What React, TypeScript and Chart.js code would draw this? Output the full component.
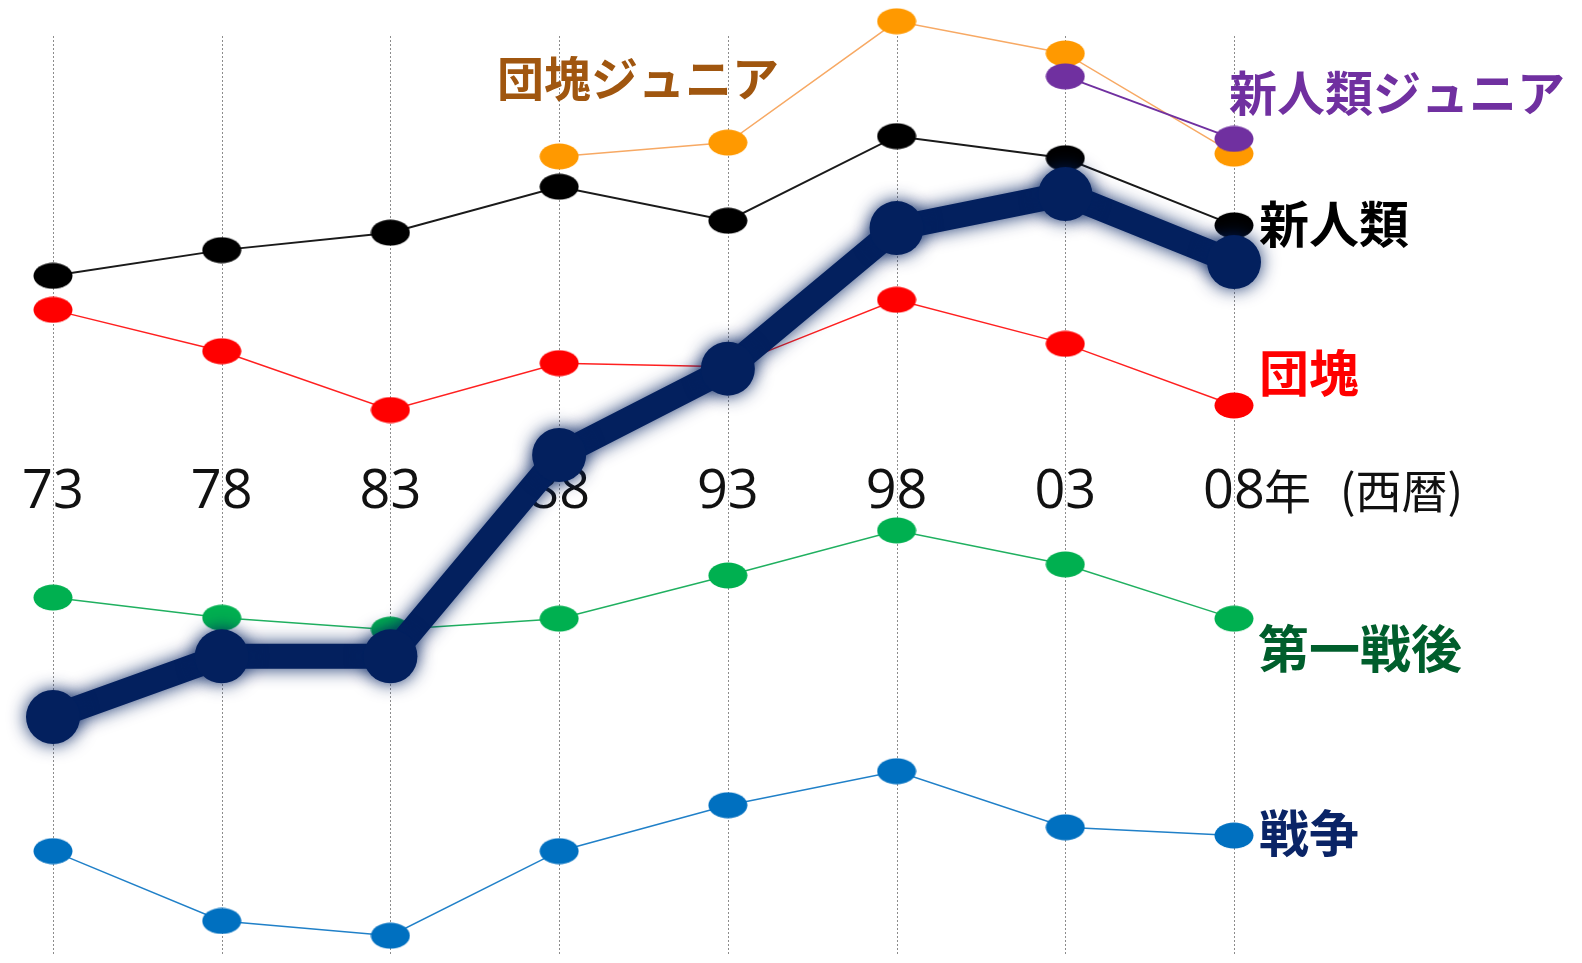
import React, { useEffect, useRef } from 'react';
import { Chart, registerables } from 'chart.js';

Chart.register(...registerables);

// ---- data ----
const years = ['73', '78', '83', '88', '93', '98', '03', '08'];
const highlightSeries = [25.9, 32.5, 32.5, 54.4, 63.8, 79.1, 82.8, 75.4];
const shinjinruiJunior = [null, null, null, null, null, null, 95.6, 88.8];
const dankaiJunior = [null, null, null, 86.9, 88.4, 101.6, 98.1, 87.2];
const shinjinrui = [73.9, 76.7, 78.6, 83.6, 79.9, 89.1, 86.7, 79.4];
const dankai = [70.2, 65.7, 59.3, 64.4, 64.0, 71.3, 66.5, 59.8];
const daiichiSengo = [38.9, 36.7, 35.4, 36.6, 41.3, 46.2, 42.5, 36.6];
const senso = [11.3, 3.7, 2.1, 11.3, 16.3, 20.0, 13.9, 13.0];
const seriesNames = ['団塊ジュニア', '新人類ジュニア', '新人類', '団塊', '第一戦後', '戦争'];
const yearUnit = '年';
const eraNote = '(西暦)';

function ellipse(color: string, w = 40, h = 27) {
  const c = document.createElement('canvas');
  c.width = w;
  c.height = h;
  const g = c.getContext('2d')!;
  g.fillStyle = color;
  g.beginPath();
  g.ellipse(w / 2, h / 2, w / 2 - 0.5, h / 2 - 0.5, 0, 0, Math.PI * 2);
  g.fill();
  return c;
}

const glowPlugin = {
  id: 'glow',
  beforeDatasetDraw(chart: any, args: any) {
    if (args.index === 0) {
      const ctx = chart.ctx;
      ctx.save();
      ctx.shadowColor = 'rgba(2, 32, 96, 0.9)';
      ctx.shadowBlur = 18;
      ctx.shadowOffsetX = 0;
      ctx.shadowOffsetY = 0;
    }
  },
  afterDatasetDraw(chart: any, args: any) {
    if (args.index === 0) chart.ctx.restore();
  },
};

const textPlugin = {
  id: 'texts',
  beforeDatasetsDraw(chart: any) {
    const ctx = chart.ctx;
    const xs = chart.scales.x;
    const area = chart.chartArea;
    ctx.save();
    // vertical dotted grid lines at each category
    ctx.strokeStyle = '#8c8c8c';
    ctx.lineWidth = 1;
    ctx.setLineDash([2, 2]);
    years.forEach((_, i) => {
      const px = Math.round(xs.getPixelForTick(i)) + 0.5;
      ctx.beginPath();
      ctx.moveTo(px, area.top);
      ctx.lineTo(px, area.bottom);
      ctx.stroke();
    });
    ctx.setLineDash([]);
    // tick labels
    ctx.fillStyle = '#111';
    ctx.font = '54px "Open Sans", "Noto Sans", sans-serif';
    ctx.textAlign = 'center';
    ctx.textBaseline = 'alphabetic';
    years.forEach((t, i) => ctx.fillText(t, xs.getPixelForTick(i), 508));
    const lastX = xs.getPixelForTick(years.length - 1);
    ctx.textAlign = 'left';
    ctx.textBaseline = 'middle';
    ctx.font = '47px "Noto Sans CJK JP", sans-serif';
    ctx.fillText(yearUnit, lastX + 30, 491);
    ctx.font = '46px "Noto Sans CJK JP", sans-serif';
    ctx.fillText(eraNote, lastX + 106, 491);
    ctx.restore();
  },
  afterDatasetsDraw(chart: any) {
    const ctx = chart.ctx;
    ctx.save();
    ctx.textAlign = 'left';
    ctx.textBaseline = 'middle';
    const spec: [number, string, number, number, number][] = [
      [0, '#A0560F', 497, 78, 47],
      [1, '#7030A0', 1229, 93, 48],
      [2, '#000000', 1259, 224, 50],
      [3, '#FF0000', 1259, 373, 50],
      [4, '#005E2C', 1258, 649, 51],
      [5, '#0A2466', 1259, 833, 50],
    ];
    spec.forEach(([i, color, x, y, size]) => {
      ctx.font = `bold ${size}px "Noto Sans CJK JP", sans-serif`;
      ctx.fillStyle = color;
      ctx.fillText(seriesNames[i], x, y);
    });
    ctx.restore();
  },
};

export default function App() {
  const ref = useRef<HTMLCanvasElement>(null);

  useEffect(() => {
    if (!ref.current) return;
    const thin = (label: string, data: any[], line: string, point: string, width: number) => ({
      label,
      data,
      borderColor: line,
      backgroundColor: point,
      borderWidth: width,
      pointStyle: ellipse(point) as any,
      pointRadius: 20,
      pointHoverRadius: 20,
      clip: false as any,
      spanGaps: false,
    });
    const chart = new Chart(ref.current, {
      type: 'line',
      data: {
        labels: years,
        datasets: [
          {
            label: '',
            data: highlightSeries,
            borderColor: '#03205E',
            backgroundColor: '#03205E',
            borderWidth: 25,
            pointRadius: 27,
            pointHoverRadius: 27,
            pointBorderWidth: 0,
            clip: false as any,
          },
          thin(seriesNames[1], shinjinruiJunior, '#7030A0', '#7030A0', 2),
          thin(seriesNames[0], dankaiJunior, '#F7A964', '#FF9900', 1.5),
          thin(seriesNames[2], shinjinrui, '#1a1a1a', '#000000', 2),
          thin(seriesNames[3], dankai, '#FF2020', '#FF0000', 1.5),
          thin(seriesNames[4], daiichiSengo, '#20B060', '#00B050', 1.5),
          thin(seriesNames[5], senso, '#2080C8', '#0070C0', 1.5),
        ],
      },
      options: {
        animation: false,
        responsive: false,
        maintainAspectRatio: false,
        devicePixelRatio: 1,
        events: [],
        layout: { autoPadding: false, padding: { left: 53, right: 348, top: 36, bottom: 8 } },
        elements: { line: { tension: 0 } },
        plugins: { legend: { display: false }, tooltip: { enabled: false } },
        scales: {
          x: { type: 'category', offset: false, display: false },
          y: { type: 'linear', display: false, min: 0, max: 100 },
        },
      },
      plugins: [glowPlugin, textPlugin],
    });
    return () => chart.destroy();
  }, []);

  return (
    <div style={{ position: 'absolute', left: 0, top: 0, width: 1582, height: 963, background: '#fff' }}>
      <canvas ref={ref} width={1582} height={963} style={{ display: 'block' }} />
    </div>
  );
}
